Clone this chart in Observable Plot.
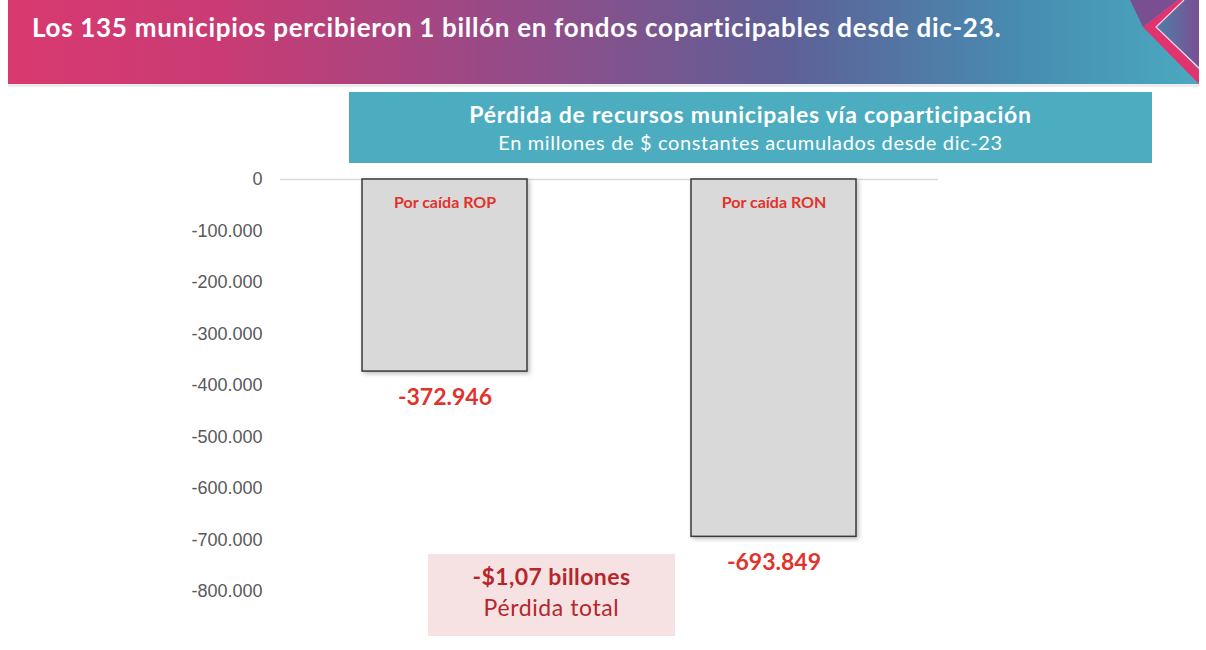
<!DOCTYPE html>
<html>
<head>
<meta charset="utf-8">
<script src="https://cdn.jsdelivr.net/npm/d3@7"></script>
<script src="https://cdn.jsdelivr.net/npm/@observablehq/plot@0.6"></script>
<style>
  html, body { margin: 0; padding: 0; background: #fff; }
  #page { position: relative; width: 1206px; height: 650px; overflow: hidden; background: #fff; }
  #deco { position: absolute; left: 0; top: 0; }
  #chart { position: absolute; left: 0; top: 0; }
</style>
</head>
<body>
<div id="page">
  <svg id="deco" width="1206" height="650" xmlns="http://www.w3.org/2000/svg">
    <defs>
      <linearGradient id="hg" x1="0" x2="1" y1="0" y2="0">
        <stop offset="0" stop-color="#d8396f"/>
        <stop offset="0.18" stop-color="#c93b74"/>
        <stop offset="0.42" stop-color="#964b88"/>
        <stop offset="0.65" stop-color="#5f5f96"/>
        <stop offset="0.85" stop-color="#478cb1"/>
        <stop offset="1" stop-color="#4aa9bf"/>
      </linearGradient>
      <linearGradient id="pg" x1="0" x2="1" y1="0" y2="0">
        <stop offset="0" stop-color="#4e7ea8"/>
        <stop offset="1" stop-color="#7a4f92"/>
      </linearGradient>
    </defs>
    <rect x="8" y="0" width="1191" height="84" fill="url(#hg)"/>
    <rect x="8" y="84" width="1191" height="3" fill="#ececec"/>
    <polygon points="1130,0 1178,0 1143,27" fill="#7a4f92"/>
    <polygon points="1178,0 1188,0 1157,27 1199,70 1199,84 1143,27" fill="#e0336f"/>
    <polygon points="1185,0 1199,0 1199,68 1157,27" fill="url(#pg)"/>
    <polyline points="1184,0 1156,27 1199,68" fill="none" stroke="#f3d6e8" stroke-width="1.2"/>
    <text id="title" x="32" y="37" fill="#fff" font-family="Lato" font-weight="700" font-size="26" letter-spacing="0.7">Los 135 municipios percibieron 1 billón en fondos coparticipables desde dic-23.</text>

    <rect x="349" y="92" width="803" height="71" fill="#4badbf"/>
    <text id="sub1" x="750.5" y="123" text-anchor="middle" fill="#fff" font-family="Lato" font-weight="700" font-size="23" letter-spacing="0.75">Pérdida de recursos municipales vía coparticipación</text>
    <text id="sub2" x="750.5" y="150" text-anchor="middle" fill="#fff" font-family="Lato" font-size="20" letter-spacing="0.65">En millones de $ constantes acumulados desde dic-23</text>

    <rect x="428" y="554" width="247" height="82" fill="#f6e2e2"/>
    <text x="551.5" y="585" text-anchor="middle" fill="#b4272c" font-family="Lato" font-weight="700" font-size="23" letter-spacing="0.4">-$1,07 billones</text>
    <text x="551.5" y="616" text-anchor="middle" fill="#b4272c" font-family="Lato" font-size="23" letter-spacing="0.6">Pérdida total</text>
  </svg>
  <div id="chart"></div>
</div>
<script>
// ---- Data ----
const categories = ["Por caída ROP", "Por caída RON"];
const values = [-372946, -693849];
const yTicks = [0, -100000, -200000, -300000, -400000, -500000, -600000, -700000, -800000];

const fmt = d => d3.format(",")(d).replace(/,/g, ".").replace("\u2212", "-");
const data = categories.map((c, i) => ({ cat: c, value: values[i], label: fmt(values[i]) }));

const chart = Plot.plot({
  width: 1206,
  height: 650,
  marginLeft: 280,
  marginRight: 268,
  marginTop: 0,
  marginBottom: 0,
  style: { background: "transparent", color: "#595959", fontFamily: "Liberation Sans", fontSize: "18px", overflow: "visible" },
  x: { domain: categories, range: [362, 856], paddingInner: 0.4985, paddingOuter: 0, axis: null },
  y: { domain: [-800000, 0], range: [591, 179], ticks: yTicks, tickFormat: fmt, tickSize: 0, tickPadding: 18, label: null },
  marks: [
    Plot.ruleY([0], { stroke: "#d9d9d9", strokeWidth: 1.5 }),
    Plot.barY(data, { x: "cat", y: "value", fill: "#d9d9d9", stroke: "#3a3a3a", strokeWidth: 1.5 }),
    Plot.text(data, { x: "cat", y: () => 0, text: "cat", dy: 23, fill: "#e0332c", fontFamily: "Lato", fontWeight: 700, fontSize: 16 }),
    Plot.text(data, { x: "cat", y: "value", text: "label", dy: 26, fill: "#e0332c", fontFamily: "Lato", fontWeight: 700, fontSize: 23 })
  ]
});
d3.select(chart).selectAll('g[aria-label="bar"] rect').style("filter", "drop-shadow(2px 2px 2px rgba(0,0,0,0.25))");
document.getElementById("chart").appendChild(chart);
</script>
</body>
</html>
